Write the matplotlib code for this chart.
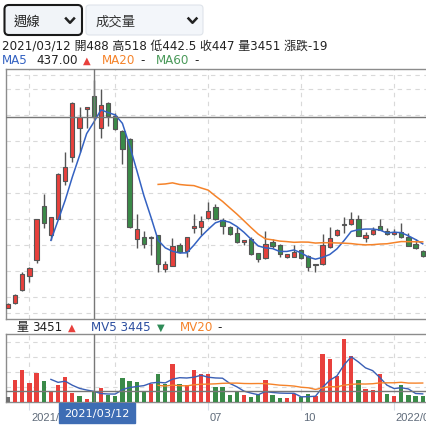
import numpy as np
import pandas as pd
import matplotlib
matplotlib.use('Agg')
import matplotlib.pyplot as plt
from matplotlib.patches import FancyBboxPatch, Rectangle
from matplotlib.lines import Line2D
from matplotlib.transforms import ScaledTranslation, Bbox

plt.rcParams['font.family'] = ['DejaVu Sans', 'Noto Sans CJK TC']

# weekly candles, 2020/12/18 .. 2022/01/28
open_ = [80, 88, 113, 140, 171, 275, 219, 251, 323, 370, 426, 462, 488, 426, 474,
         449, 420, 405, 213, 215, 216, 219, 154, 161, 200, 188, 233, 236, 252, 273,
         249, 236, 223, 206, 212, 185, 175, 206, 200, 177, 178, 191, 179, 162, 163,
         196, 219, 239, 240, 250, 214, 221, 237, 228, 221, 226, 215, 202, 188]
high = [88, 106, 148, 158, 251, 299, 255, 340, 379, 475, 467, 467, 518, 501, 476,
        454, 422, 406, 260, 228, 218, 220, 170, 214, 204, 216, 261, 257, 284, 280,
        253, 238, 236, 211, 215, 186, 228, 212, 202, 184, 200, 193, 181, 164, 222,
        235, 231, 254, 264, 259, 226, 235, 250, 233, 232, 243, 223, 212, 190]
low = [79, 87, 112, 129, 165, 233, 210, 250, 316, 361, 380, 425, 442.5, 407, 430,
       422, 357, 234, 194, 195, 181, 149, 148, 160, 186, 178, 224, 219, 250, 249,
       221, 219, 205, 200, 182, 168, 174, 195, 178, 175, 177, 174, 150, 149, 162,
       195, 217, 223, 239, 217, 207, 219, 229, 220, 220, 214, 198, 193, 178]
close = [87, 105, 145, 156, 250, 242, 254, 337, 351, 474, 447, 466, 447, 470, 448,
         424, 385, 236, 231, 203, 214, 164, 163, 198, 187, 215, 238, 247, 266, 250,
         238, 221, 206, 210, 183, 173, 203, 199, 182.5, 183, 187, 175, 159, 162, 201,
         214, 229, 239, 250, 218, 220, 229, 230, 221, 226, 215, 199, 194, 180]
volume = [1650, 7130, 10640, 6360, 9650, 7020, 3510, 5700, 8300, 2900, 1800, 774,
          3451, 4720, 2080, 1755, 8010, 7020, 6470, 3510, 6030, 9320, 6030, 12620,
          6030, 5490, 10640, 9320, 9320, 4830, 5050, 2080, 3620, 2080, 1430, 2410,
          7350, 2080, 1100, 1100, 2410, 1430, 2410, 1755, 15900, 14260, 8670, 20840,
          15140, 7350, 4390, 4060, 9320, 2410, 1755, 5700, 2080, 1755, 1755]

sel = 12
sel_date = '2021/03/12'
tick_idx = [3, 15, 28, 41, 54]
tick_labels = ['2021/01', '04', '07', '10', '2022/01']
ma_start = 2

W = H = 426
UP, DOWN, FLAT = '#e8403c', '#3a8a48', '#707070'
EDGE = '#555555'
GRID = '#d9d9d9'
SPINE = '#8c8c8c'
BLUE, ORANGE, GREEN = '#3462c2', '#f5832a', '#4a9a5a'


def fx(px):
    return px / W


def fy(py):
    return 1 - py / H


def ma(a, k):
    s = pd.Series(a[ma_start:]).rolling(k).mean().values
    return np.concatenate([np.full(ma_start, np.nan), s])


o = np.array(open_, float)
h = np.array(high, float)
l = np.array(low, float)
c = np.array(close, float)
v = np.array(volume, float)
n = len(c)
x = np.arange(n)

ma5 = ma(c, 5)
ma20 = ma(c, 20)
mv5 = ma(v, 5)
mv20 = ma(v, 20)

fig = plt.figure(figsize=(W / 100, H / 100), dpi=100)
fig.patch.set_facecolor('white')

ax = fig.add_axes([fx(6), fy(319), fx(426) - fx(6), (319 - 69) / H])
axv = fig.add_axes([fx(6), fy(401.7), fx(426) - fx(6), (401.7 - 334.3) / H])

xmin, xmax = -0.28, 58.46
for a in (ax, axv):
    a.set_xlim(xmin, xmax)
    for s in ('left', 'top', 'bottom'):
        a.spines[s].set_color(SPINE)
        a.spines[s].set_linewidth(1.0)
    a.spines['right'].set_visible(False)
    a.set_yticks([])
    for t in tick_idx:
        a.axvline(t, color=GRID, lw=0.8, ls=(0, (4, 4)), zorder=0)

# main chart
lo, hi = l.min() - 10, h.max() + 10
ax.set_ylim(lo - (hi - lo) * 0.024, hi + (hi - lo) * 0.025)
for yv in list(range(100, int(hi), 50)) + [lo, hi]:
    ax.axhline(yv, color=GRID, lw=0.8, ls=(0, (4, 4)), zorder=0)
ax.set_xticks([])

cc = np.where(c > o, UP, np.where(c < o, DOWN, FLAT))
ax.vlines(x, l, h, color=EDGE, lw=1.0, zorder=2)
ax.bar(x, np.maximum(np.abs(c - o), 1.2), bottom=np.minimum(o, c), width=0.6,
       color=cc, edgecolor=EDGE, linewidth=0.8, zorder=3)
ax.plot(x, ma5, color=BLUE, lw=1.1, zorder=4)
ax.plot(x, ma20, color=ORANGE, lw=1.1, zorder=4)
ax.axvline(sel, color='#777777', lw=1.0, zorder=5)
ax.axhline(c[sel], color='#777777', lw=1.0, zorder=5)

# volume chart
chg = np.diff(c, prepend=np.nan)
vc = np.where(chg > 0, UP, np.where(chg < 0, DOWN, FLAT))
axv.set_ylim(0, v.max() * 1.078)
for yv in range(5000, int(v.max()) + 1, 5000):
    axv.axhline(yv, color=GRID, lw=0.8, ls=(0, (4, 4)), zorder=0)
axv.bar(x, v, width=0.6, color=vc, zorder=3)
axv.plot(x, mv5, color='#3a5fb5', lw=1.0, zorder=4)
axv.plot(x, mv20, color=ORANGE, lw=1.0, zorder=4)
axv.axvline(sel, color='#777777', lw=1.0, zorder=5)
axv.axhline(v[sel], color='#777777', lw=1.0, zorder=5)
axv.set_xticks(tick_idx)
axv.set_xticklabels([])
axv.tick_params(axis='x', length=5.8, width=0.8, color='#d5dce6', direction='out')

# selected date box
xs = ax.transData.transform((sel, 0))[0] * W / fig.bbox.width
box_l, box_r = xs - 34.5, xs + 41.2
fig.patches.append(Rectangle((fx(box_l), fy(423.3)), (box_r - box_l) / W, 20 / H,
                             transform=fig.transFigure, color='#3e6db4', zorder=10))
fig.text(fx(xs + 3.4), fy(417.3), sel_date, color='white', fontsize=8.2,
         ha='center', va='baseline', zorder=11)

# quarter labels, the box hides what lies under it
tr = axv.get_xaxis_transform() + ScaledTranslation(1.5 / 100, 0, fig.dpi_scale_trans)
for t, lab in zip(tick_idx, tick_labels):
    tx = ax.transData.transform((t, 0))[0] * W / fig.bbox.width + 1.5
    if box_l <= tx <= box_r:
        continue
    txt = axv.text(t, (401.7 - 421) / 67.4, lab, transform=tr, fontsize=8,
                   family=['Liberation Sans', 'DejaVu Sans'], color='#5f6b7a',
                   ha='left', va='baseline')
    right = box_l if tx < box_l else W
    txt.set_clip_box(Bbox.from_extents(0, 0, right * fig.bbox.width / W, fig.bbox.height))
    txt.set_clip_on(True)

# select boxes
fig.patches.append(FancyBboxPatch((fx(4.5), fy(35)), 77.5 / W, 30 / H,
                                  boxstyle='round,pad=0,rounding_size=0.01',
                                  transform=fig.transFigure, facecolor='#f1f4f8',
                                  edgecolor='#1a1a1a', linewidth=1.5))
fig.patches.append(FancyBboxPatch((fx(86), fy(35)), 117 / W, 30 / H,
                                  boxstyle='round,pad=0,rounding_size=0.008',
                                  transform=fig.transFigure, facecolor='#f3f6fa',
                                  edgecolor='#dfe4ea', linewidth=0.8))
for cx in (70, 192.5):
    fig.lines.append(Line2D([fx(cx - 4), fx(cx), fx(cx + 4)], [fy(18.5), fy(22.8), fy(18.5)],
                            transform=fig.transFigure, color='#222222', lw=1.8))
fig.text(fx(14), fy(21.5), '週線', fontsize=9.6, family='Noto Sans CJK TC',
         color='#222222', va='center')
fig.text(fx(96), fy(21.5), '成交量', fontsize=9.6, family='Noto Sans CJK TC',
         color='#333333', va='center')

# header lines
hdr = (f'{sel_date} 開{o[sel]:g} 高{h[sel]:g} 低{l[sel]:g} 收{c[sel]:g} '
       f'量{v[sel]:g} 漲跌{c[sel] - c[sel - 1]:g}')
fig.text(fx(2), fy(49.3), hdr, fontsize=8.6, color='#222222', va='baseline')


def arrow(cur, prev):
    return ('▲', UP) if cur >= prev else ('▼', '#2e8b57')


a1 = arrow(ma5[sel], ma5[sel - 1])
parts2 = [(2, 'MA5', BLUE), (36, f'{ma5[sel]:.2f}', '#222222'),
          (82.5, a1[0], a1[1]), (101.5, 'MA20', ORANGE), (140, '-', '#222222'),
          (156, 'MA60', GREEN), (194, '-', '#222222')]
for px, txt, col in parts2:
    fs = 7.2 if txt in ('▲', '▼') else 8.6
    fig.text(fx(px), fy(64), txt, fontsize=fs, color=col, va='baseline')

a2 = arrow(v[sel], v[sel - 1])
a3 = arrow(mv5[sel], mv5[sel - 1])
parts3 = [(16, '量', '#222222'), (31.7, f'{v[sel]:g}', '#222222'),
          (67.7, a2[0], a2[1]), (90.7, f'MV5 {mv5[sel]:.0f}', '#2d4fa0'),
          (156.7, a3[0], a3[1]), (180, 'MV20', ORANGE), (217.5, '-', '#222222')]
for px, txt, col in parts3:
    fs = 7.2 if txt in ('▲', '▼') else 8.6
    fig.text(fx(px), fy(331), txt, fontsize=fs, color=col, va='baseline')

fig.savefig('out.png', dpi=100)
